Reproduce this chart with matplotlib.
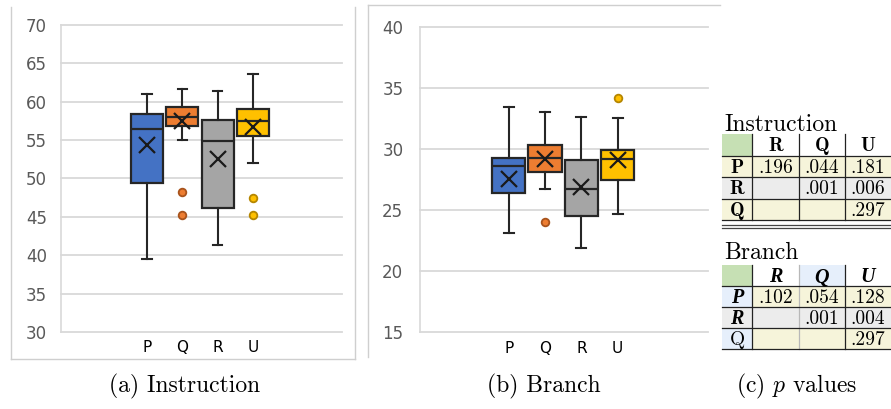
import matplotlib
matplotlib.use("Agg")
import matplotlib.pyplot as plt
from matplotlib.patches import Rectangle

# ---------------- data ----------------
categories = ['P', 'Q', 'R', 'U']
colors = ['#4472C4', '#ED7D31', '#A5A5A5', '#FFC000']
flier_edges = ['#2f528f', '#a8531c', '#6e6e6e', '#b58600']

inst_lo = [39.5, 55.0, 41.4, 52.0]
inst_q1 = [49.4, 56.8, 46.1, 55.5]
inst_med = [56.4, 58.0, 54.85, 57.5]
inst_q3 = [58.45, 59.3, 57.6, 59.1]
inst_hi = [61.0, 61.7, 61.45, 63.6]
inst_mean = [54.3, 57.5, 52.6, 56.7]
inst_out = [[], [48.2, 45.3], [], [47.5, 45.2]]
inst_ticks = [30, 35, 40, 45, 50, 55, 60, 65, 70]

br_lo = [23.1, 26.75, 21.9, 24.65]
br_q1 = [26.4, 28.15, 24.5, 27.5]
br_med = [28.6, 29.25, 26.75, 29.15]
br_q3 = [29.25, 30.3, 29.1, 29.9]
br_hi = [33.45, 33.05, 32.65, 32.5]
br_mean = [27.55, 29.2, 26.9, 29.1]
br_out = [[], [24.05], [], [34.15]]
br_ticks = [15, 20, 25, 30, 35, 40]

tab_cols = ['R', 'Q', 'U']
tab_rows = ['P', 'R', 'Q']
inst_p = [['.196', '.044', '.181'], ['', '.001', '.006'], ['', '', '.297']]
branch_p = [['.102', '.054', '.128'], ['', '.001', '.004'], ['', '', '.297']]

plt.rcParams['mathtext.fontset'] = 'cm'

W, H = 891, 409
fig = plt.figure(figsize=(W / 100, H / 100), dpi=100)
fig.patch.set_facecolor('white')

# overlay axes in pixel coordinates
ov = fig.add_axes([0, 0, 1, 1])
ov.set_xlim(0, W)
ov.set_ylim(H, 0)
ov.axis('off')

frame_c = '#cfcfcf'
# panel (a) frame
ov.plot([11, 11], [7, 359], color=frame_c, lw=1)
ov.plot([11, 355], [359, 359], color=frame_c, lw=1)
ov.plot([355, 355], [7, 359], color=frame_c, lw=1)
# panel (b) frame
ov.plot([368, 368], [5, 357], color=frame_c, lw=1)
ov.plot([368, 720], [5, 5], color=frame_c, lw=1)


def pix_axes(x0, x1, ytop, ybot):
    return fig.add_axes([x0 / W, 1 - ybot / H, (x1 - x0) / W, (ybot - ytop) / H])


def draw_box(ax, lo, q1, med, q3, hi, mean, out, ylim, ticks, xlim, width, pad):
    stats = []
    for i in range(len(categories)):
        stats.append(dict(whislo=lo[i], q1=q1[i], med=med[i], q3=q3[i],
                          whishi=hi[i], mean=mean[i], fliers=out[i],
                          label=categories[i]))
    pos = list(range(1, len(categories) + 1))
    ec = '#262626'
    bp = ax.bxp(stats, positions=pos, widths=width, patch_artist=True,
                showmeans=True, capwidths=0.27,
                boxprops=dict(edgecolor=ec, linewidth=1.6),
                medianprops=dict(color=ec, linewidth=1.6),
                whiskerprops=dict(color=ec, linewidth=1.5),
                capprops=dict(color=ec, linewidth=1.5),
                meanprops=dict(marker='x', markeredgecolor='#1a1a1a',
                               markersize=11, markeredgewidth=1.6),
                flierprops=dict(marker='o', markersize=5.5))
    for i, b in enumerate(bp['boxes']):
        b.set_facecolor(colors[i])
    for i, f in enumerate(bp['fliers']):
        f.set_markerfacecolor(colors[i])
        f.set_markeredgecolor(flier_edges[i])
        f.set_markeredgewidth(1.3)
    ax.set_ylim(*ylim)
    ax.set_xlim(*xlim)
    ax.set_yticks(ticks)
    ax.set_xticks(pos)
    ax.set_xticklabels(categories, fontsize=11, color='black',
                       family='DejaVu Sans')
    ax.tick_params(axis='y', length=0, pad=pad, labelsize=12,
                   labelcolor='#595959')
    ax.tick_params(axis='x', length=0, pad=6)
    ax.yaxis.grid(True, color='#d9d9d9', linewidth=1.3)
    for gl in ax.get_ygridlines():
        gl.set_clip_on(False)
    ax.set_axisbelow(True)
    for s in ['top', 'right', 'bottom']:
        ax.spines[s].set_visible(False)
    ax.spines['left'].set_color('#d9d9d9')
    ax.spines['left'].set_linewidth(1.2)
    ax.patch.set_alpha(0)


axa = pix_axes(61, 342, 25, 332)
draw_box(axa, inst_lo, inst_q1, inst_med, inst_q3, inst_hi, inst_mean,
         inst_out, (30, 70), inst_ticks, (-1.434, 6.519), 0.906, 10)

axb = pix_axes(420, 708, 26.7, 332.3)
draw_box(axb, br_lo, br_q1, br_med, br_q3, br_hi, br_mean,
         br_out, (15, 40), br_ticks, (-1.441, 6.485), 0.91, 12)

# captions
cap_fs = 17
ov.text(185, 386, '(a) Instruction', family='cmr10', fontsize=cap_fs,
        ha='center', va='center')
ov.text(544, 386, '(b) Branch', family='cmr10', fontsize=cap_fs,
        ha='center', va='center')
ov.text(797, 386, r'(c) $p$ values', family='cmr10', fontsize=cap_fs,
        ha='center', va='center')

# ---------------- tables ----------------
col_edges = [722, 752, 799, 845, 891]
green = '#c6e0b4'
yellow = '#f6f4da'
grey = '#ececec'
blue = '#e6effb'
white = '#ffffff'
val_fs = 14


def draw_table(top, title, title_base, values, header_font, row_fonts,
               cell_colors, rh, light_vlines=()):
    ov.text(724, title_base, title, family='cmr10', fontsize=17,
            ha='left', va='baseline')
    nrows = len(tab_rows) + 1
    for r in range(nrows):
        for c in range(len(col_edges) - 1):
            x0, x1 = col_edges[c], col_edges[c + 1]
            y0 = top + r * rh
            ov.add_patch(Rectangle((x0, y0), x1 - x0, rh,
                                   facecolor=cell_colors[r][c],
                                   edgecolor='none', zorder=1))
            cx = (x0 + x1) / 2
            cy = y0 + rh / 2 + 1.5
            if r == 0 and c > 0:
                ov.text(cx, cy, tab_cols[c - 1], ha='center', va='center',
                        zorder=3, **header_font)
            elif r > 0 and c == 0:
                ov.text(cx, cy, tab_rows[r - 1], ha='center', va='center',
                        zorder=3, **row_fonts[r - 1])
            elif r > 0 and c > 0:
                ov.text(cx, cy, values[r - 1][c - 1], ha='center',
                        va='center', family='cmr10', fontsize=val_fs,
                        zorder=3)
    bottom = top + nrows * rh
    for xe in col_edges[1:-1]:
        col = '#b8b8b8' if xe in light_vlines else '#222222'
        ov.plot([xe, xe], [top, bottom], color=col, lw=0.9, zorder=2)
    for r in range(1, nrows + 1):
        y = top + r * rh
        ov.plot([col_edges[0], col_edges[-1]], [y, y], color='#222222',
                lw=0.9, zorder=2)
    return bottom


bold_cm = dict(family='cmb10', fontsize=val_fs)
inst_colors = [[green, white, white, white],
               [yellow, yellow, yellow, yellow],
               [grey, grey, grey, grey],
               [yellow, yellow, yellow, yellow]]
bot = draw_table(134, 'Instruction', 131, inst_p, bold_cm,
                 [bold_cm, bold_cm, bold_cm], inst_colors, 21.5)
ov.plot([722, 891], [bot + 5, bot + 5], color='#444444', lw=0.9)
ov.plot([722, 891], [bot + 8, bot + 8], color='#444444', lw=0.9)

bi = dict(family='Liberation Serif', weight='bold', style='italic',
          fontsize=val_fs + 0.5)
br_colors = [[green, white, blue, white],
             [blue, yellow, yellow, yellow],
             [grey, grey, grey, grey],
             [blue, yellow, yellow, yellow]]
draw_table(265, 'Branch', 259, branch_p, bi,
           [bi, bi, dict(family='cmr10', fontsize=val_fs)], br_colors, 21,
           light_vlines=(799,))

fig.savefig('out.png', dpi=100, facecolor='white')
